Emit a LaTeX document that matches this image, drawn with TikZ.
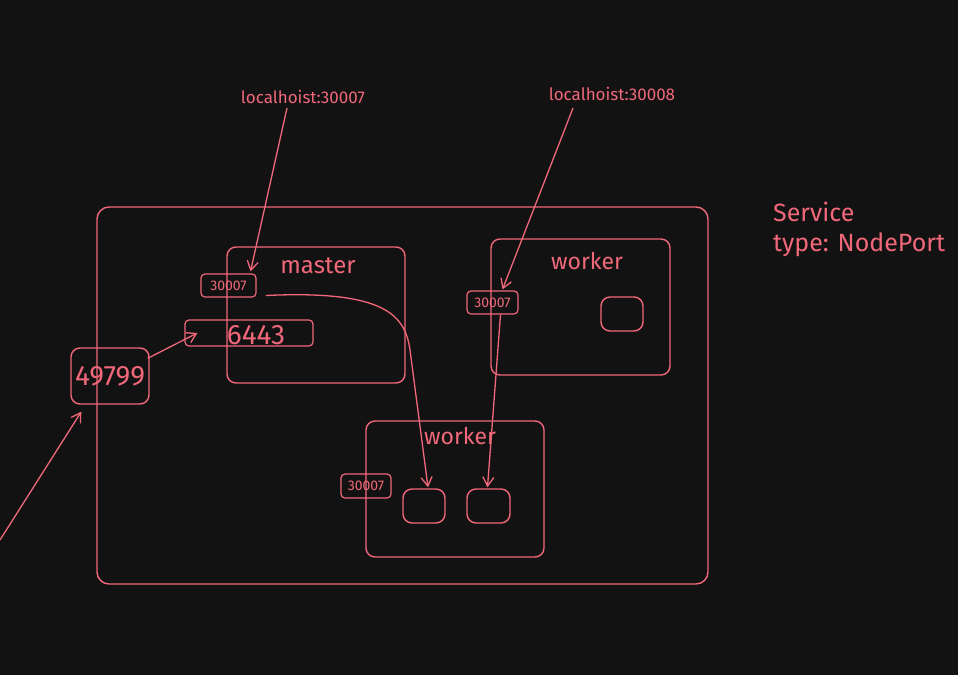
\documentclass[tikz,border=0pt]{standalone}
\usepackage{fontspec}
\setmainfont{Fira Sans}
\usetikzlibrary{arrows.meta,calc}
\definecolor{bg}{HTML}{121212}
\definecolor{pk}{HTML}{F0687A}
\tikzset{
  box/.style={draw=pk, line width=1.4pt, rounded corners=9pt, inner sep=0pt},
  sbox/.style={draw=pk, line width=1.2pt, rounded corners=4pt, inner sep=0pt},
  txt/.style={text=pk, inner sep=0pt},
  arr/.style={draw=pk, line width=1.3pt, -{Straight Barb[length=9pt,width=11pt]}},
}
\begin{document}
\begin{tikzpicture}[x=1pt,y=-1pt]
\fill[bg] (0,0) rectangle (958,675);
\useasboundingbox (0,0) rectangle (958,675);
% outer cluster
\node[box, rounded corners=12pt, minimum width=611pt, minimum height=377pt] (cluster) at (402.5,395.5) {};
% master
\node[box, minimum width=178pt, minimum height=136pt] (master) at (316,315) {};
\node[txt, font=\fontsize{24}{28}\selectfont] (mastertxt) at (318,266) {master};
\node[sbox, minimum width=55pt, minimum height=23pt, font=\fontsize{14}{16}\selectfont, text=pk] (p1) at (228.5,285.5) {30007};
\node[sbox, minimum width=128pt, minimum height=26pt] (k6443) at (249,333) {};
\node[txt, font=\fontsize{28}{32}\selectfont] (k6443txt) at (256,335) {6443};
\node[box, minimum width=78pt, minimum height=56pt, font=\fontsize{28}{32}\selectfont, text=pk] (n49799) at (110,376) {49799};
% worker top right
\node[box, minimum width=179pt, minimum height=136pt] (w1) at (580.5,307) {};
\node[txt, font=\fontsize{23}{26}\selectfont] (w1txt) at (587,261) {worker};
\node[box, minimum width=42pt, minimum height=34pt] (w1pod) at (622,314) {};
\node[sbox, minimum width=51pt, minimum height=23pt, font=\fontsize{14}{16}\selectfont, text=pk] (p2) at (492.5,302.5) {30007};
% worker bottom
\node[box, minimum width=178pt, minimum height=136pt] (w2) at (455,489) {};
\node[txt, font=\fontsize{23}{26}\selectfont] (w2txt) at (460,436) {worker};
\node[box, minimum width=42pt, minimum height=34pt] (poda) at (424,506) {};
\node[box, minimum width=43pt, minimum height=34pt] (podb) at (488.5,506) {};
\node[sbox, minimum width=50pt, minimum height=24pt, font=\fontsize{14}{16}\selectfont, text=pk] (p3) at (366,486) {30007};
% labels
\node[txt, font=\fontsize{17}{20}\selectfont] (lh1) at (303,97) {localhoist:30007};
\node[txt, font=\fontsize{17}{20}\selectfont] (lh2) at (612,94) {localhoist:30008};
\node[txt, anchor=north west, align=left, font=\fontsize{25}{30}\selectfont] (svc) at (773,202) {Service\\type: NodePort};
% arrows
\coordinate (ext) at (0,540);
\draw[arr] (287,108) -- ($(p1.north)+(22,-2)$);
\draw[arr] (573,108) -- ($(p2.north)+(10,-1)$);
\draw[arr] ($(p2.south)+(8,0)$) -- ($(podb.north)+(-1,-1)$);
\draw[arr] ($(p1.east)+(9,10)$) .. controls (385,290) and (405,315) .. (410,350) -- ($(poda.north)+(4,-1)$);
\draw[arr] ($(n49799.north east)+(-2,11)$) -- ($(k6443.west)+(13,0)$);
\draw[arr] (ext) -- ($(n49799.south west)+(11,7)$);
\end{tikzpicture}
\end{document}
